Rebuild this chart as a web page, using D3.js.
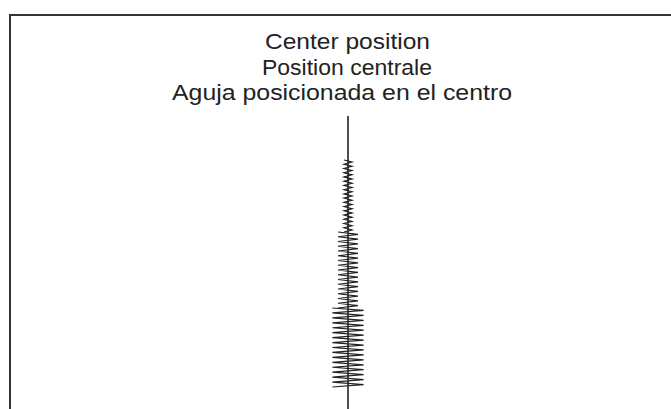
<!DOCTYPE html>
<html>
<head>
<meta charset="utf-8">
<script src="https://cdn.jsdelivr.net/npm/d3@7"></script>
<style>
  body { margin: 0; background: #fff; }
  svg { display: block; }
</style>
</head>
<body>
<svg id="chart" width="671" height="409"></svg>
<script>
// caption lines (one per language)
const titleLines = ["Center position", "Position centrale", "Aguja posicionada en el centro"];

// zigzag sections of the stitch, top to bottom
const sectionNames = ["narrow", "medium", "wide"];
const sectionStart = [0, 18, 37];     // mm along the seam
const sectionEnd = [18, 37, 56.75];
const sectionWidth = [2.0, 5.0, 7.8]; // total zigzag width, mm
const sectionCycles = [17, 16, 16];   // zigzag cycles per section

// needle (straight) line extent, mm
const needleTop = -11;
const needleBottom = 62.5;

const svg = d3.select("#chart");
const W = +svg.attr("width"), H = +svg.attr("height");

// frame: left and top edge only
svg.append("path")
  .attr("d", `M10,${H} L10,15 L${W},15`)
  .attr("fill", "none")
  .attr("stroke", "#333")
  .attr("stroke-width", 2);

const cx = 348;
const x = d3.scaleLinear().domain([-5, 5]).range([cx - 20, cx + 20]);
const y = d3.scaleLinear().domain([0, 10]).range([160, 200]);

// caption, the original type is a bit wider than Liberation Sans
const titleWidths = [165, 170, 340];
const titleCenters = [347.5, 347, 342];
svg.selectAll("text.title")
  .data(titleLines)
  .enter().append("text")
  .attr("class", "title")
  .attr("text-anchor", "middle")
  .attr("font-family", "'Liberation Sans', Arial, Helvetica, sans-serif")
  .attr("font-size", 22)
  .attr("fill", "#222")
  .attr("x", (d, i) => titleCenters[i])
  .attr("y", (d, i) => 49 + i * 25.5)
  .attr("textLength", (d, i) => titleWidths[i])
  .attr("lengthAdjust", "spacingAndGlyphs")
  .text(d => d);

// needle line
svg.append("line")
  .attr("x1", x(0)).attr("x2", x(0))
  .attr("y1", y(needleTop)).attr("y2", y(needleBottom))
  .attr("stroke", "#222")
  .attr("stroke-width", 1.6);

// zigzag stitches
const sections = sectionNames.map((name, i) => ({
  name: name,
  start: sectionStart[i],
  end: sectionEnd[i],
  width: sectionWidth[i],
  cycles: sectionCycles[i]
}));

const line = d3.line().x(d => x(d[0])).y(d => y(d[1]));

svg.selectAll("path.stitch")
  .data(sections)
  .enter().append("path")
  .attr("class", "stitch")
  .attr("fill", "none")
  .attr("stroke", "#222")
  .attr("stroke-width", 1.2)
  .attr("d", s => {
    const pts = [];
    const n = s.cycles * 2;
    const step = (s.end - s.start) / n;
    for (let k = 0; k <= n; k++) {
      const side = k % 2 == 0 ? -1 : 1;
      pts.push([side * s.width / 2, s.start + k * step]);
    }
    return line(pts);
  });
</script>
</body>
</html>
